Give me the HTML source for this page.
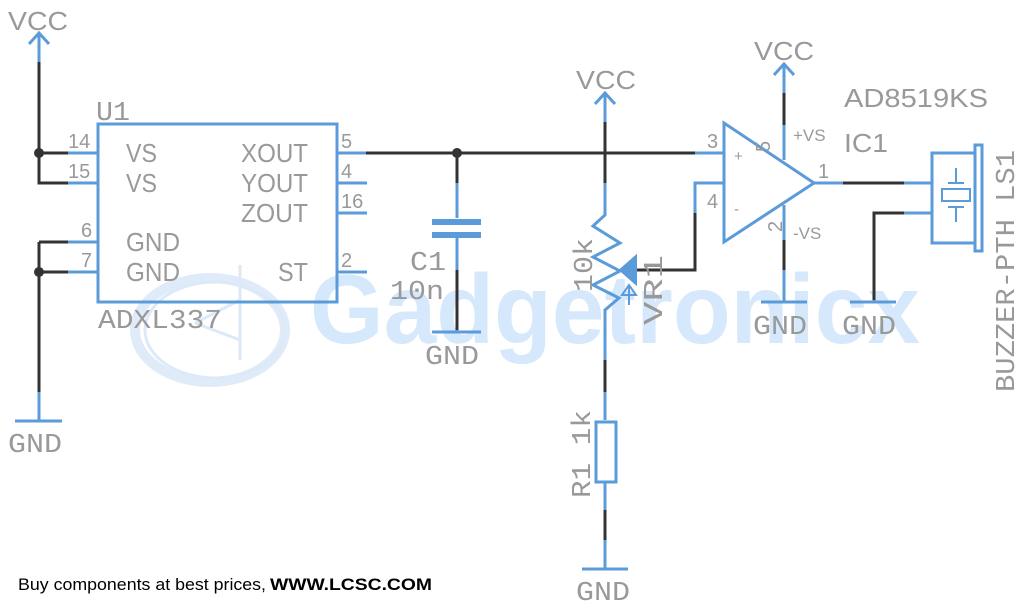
<!DOCTYPE html>
<html><head><meta charset="utf-8"><style>
html,body{margin:0;padding:0;background:#fff;}
svg{display:block}
.t{font-family:"Liberation Sans",sans-serif;fill:#999}
.m{font-family:"Liberation Mono","DejaVu Sans Mono",monospace;fill:#999}
</style></head><body>
<svg width="1024" height="608" viewBox="0 0 1024 608" xmlns="http://www.w3.org/2000/svg">
<g opacity="0.55">
<ellipse cx="210" cy="330" rx="75" ry="52" fill="none" stroke="#c6dcf3" stroke-width="10"/>
<ellipse cx="215" cy="330" rx="70" ry="48" fill="none" stroke="#bfd8f5" stroke-width="3"/>
<line x1="240" y1="265" x2="240" y2="360" stroke="#bfd8f5" stroke-width="3"/>
<line x1="195" y1="323" x2="240" y2="340" stroke="#bfd8f5" stroke-width="3"/>
<line x1="195" y1="323" x2="240" y2="300" stroke="#bfd8f5" stroke-width="3"/>
<text x="310" y="343" font-family="Liberation Sans,sans-serif" font-weight="bold" font-size="98" fill="#b6d6f8" textLength="610" lengthAdjust="spacingAndGlyphs">Gadgetronicx</text>
</g>
<g fill="none" stroke-width="3" stroke-linecap="butt">
<g stroke="#333">
<path d="M39 62V183H68M39 153H68"/>
<path d="M39 242V392M39 242H68M39 272H68"/>
<path d="M366 153H700"/>
<path d="M457 153V183M457 270V330"/>
<path d="M605 122V183"/>
<path d="M636 270H695V213"/>
<path d="M784 93V125M784 240V270"/>
<path d="M843 183H904M874 300V213H904"/>
<path d="M605 360V392M605 510V540"/>
</g>
<g stroke="#5b9bd9">
<path d="M39 62V33M29 44L39 33L49 44"/>
<path d="M68 153H97M68 183H97M68 242H97M68 272H97"/>
<rect x="98" y="124" width="239" height="178"/>
<path d="M337 153H366M337 183H367M337 213H367M337 272H367"/>
<path d="M39 392V421M15 421H62" />
<path d="M457 183V218M457 237V270M457 330V332"/>
<path d="M432 222H481M432 235H481" stroke-width="6"/>
<path d="M432 332H481"/>
<path d="M605 122V93M595 104L605 93L615 104"/>
<path d="M605 183V215L593 226L620 243L593 257L620 271L593 285L619 298L605 310V360"/>
<path d="M620 270H636"/>
<path d="M629 285V305M622 295L629 285L636 295Z" stroke-width="2"/>
<path d="M695 213V183H724M695 153H724"/>
<path d="M724 123V242L814 183Z"/>
<path d="M784 125V160M784 205V240M784 270V302M761 302H807"/>
<path d="M784 93V64M774 75L784 64L794 75"/>
<path d="M814 183H843M904 183H932M904 213H932M874 300V302M850 302H896"/>
<rect x="932" y="153" width="43" height="90"/>
<rect x="975" y="145" width="7" height="106" stroke-width="3"/>
<rect x="942" y="189" width="28" height="12" stroke-width="2"/>
<path d="M956 168V183M948 183H964M956 207V222M948 207H964" stroke-width="2"/>
<path d="M605 392V420M605 482V510M605 540V569M582 569H628"/>
<rect x="596" y="422" width="20" height="60"/>
</g>
<path d="M620 270L636 256V284Z" fill="#5b9bd9" stroke="#5b9bd9" stroke-width="2"/>
</g>
<g fill="#333">
<circle cx="39" cy="153" r="5"/><circle cx="39" cy="272" r="5"/><circle cx="457" cy="153" r="5"/>
</g>
<g class="t" font-size="26">
<text x="8" y="30" textLength="60" lengthAdjust="spacingAndGlyphs">VCC</text>
<text x="576" y="89" textLength="60" lengthAdjust="spacingAndGlyphs">VCC</text>
<text x="754" y="60" textLength="60" lengthAdjust="spacingAndGlyphs">VCC</text>
<text x="844" y="107" textLength="144" lengthAdjust="spacingAndGlyphs">AD8519KS</text>
<text x="844" y="152" textLength="44" lengthAdjust="spacingAndGlyphs">IC1</text>
<text x="126" y="162" textLength="31" lengthAdjust="spacingAndGlyphs">VS</text><text x="126" y="192" textLength="31" lengthAdjust="spacingAndGlyphs">VS</text>
<text x="126" y="251" textLength="54" lengthAdjust="spacingAndGlyphs">GND</text><text x="126" y="281" textLength="54" lengthAdjust="spacingAndGlyphs">GND</text>
<text x="241" y="162" textLength="67" lengthAdjust="spacingAndGlyphs">XOUT</text><text x="241" y="192" textLength="67" lengthAdjust="spacingAndGlyphs">YOUT</text><text x="241" y="222" textLength="67" lengthAdjust="spacingAndGlyphs">ZOUT</text>
<text x="278" y="281" textLength="30" lengthAdjust="spacingAndGlyphs">ST</text>
</g>
<g class="t" font-size="20">
<text x="68" y="148">14</text><text x="68" y="178">15</text>
<text x="81" y="237">6</text><text x="81" y="267">7</text>
<text x="341" y="148">5</text><text x="341" y="178">4</text><text x="341" y="208">16</text><text x="341" y="267">2</text>
<text x="707" y="148">3</text><text x="707" y="208">4</text>
<text x="818" y="178">1</text>
<text x="793" y="141" font-size="17">+VS</text>
<text x="793" y="239" font-size="17">-VS</text>
<text x="734" y="161" font-size="15">+</text>
<text x="734" y="214" font-size="15">-</text>
<text transform="translate(770,152) rotate(-90)">5</text>
<text transform="translate(782,232) rotate(-90)">2</text>
</g>
<g class="m" font-size="27">
<text x="96" y="120" textLength="34" lengthAdjust="spacingAndGlyphs">U1</text>
<text x="98" y="328" textLength="124" lengthAdjust="spacingAndGlyphs">ADXL337</text>
<text x="410" y="270" textLength="36" lengthAdjust="spacingAndGlyphs">C1</text>
<text x="390" y="299" textLength="54" lengthAdjust="spacingAndGlyphs">10n</text>
<text x="425" y="364" textLength="54" lengthAdjust="spacingAndGlyphs">GND</text>
<text x="8" y="452" textLength="54" lengthAdjust="spacingAndGlyphs">GND</text>
<text x="753" y="334" textLength="54" lengthAdjust="spacingAndGlyphs">GND</text>
<text x="842" y="334" textLength="54" lengthAdjust="spacingAndGlyphs">GND</text>
<text x="576" y="600" textLength="54" lengthAdjust="spacingAndGlyphs">GND</text>
<text transform="translate(592,292) rotate(-90)" textLength="54" lengthAdjust="spacingAndGlyphs">10k</text>
<text transform="translate(662,325) rotate(-90)" textLength="70" lengthAdjust="spacingAndGlyphs">VR1</text>
<text transform="translate(590,498) rotate(-90)" textLength="88" lengthAdjust="spacingAndGlyphs">R1 1k</text>
<text transform="translate(1014,392) rotate(-90)" textLength="242" lengthAdjust="spacingAndGlyphs">BUZZER-PTH LS1</text>
</g>
<text x="18" y="590" font-family="Liberation Sans,sans-serif" font-size="17" fill="#000"><tspan textLength="248" lengthAdjust="spacingAndGlyphs">Buy components at best prices,</tspan><tspan x="270" font-weight="bold" textLength="162" lengthAdjust="spacingAndGlyphs">WWW.LCSC.COM</tspan></text>
</svg>
</body></html>
